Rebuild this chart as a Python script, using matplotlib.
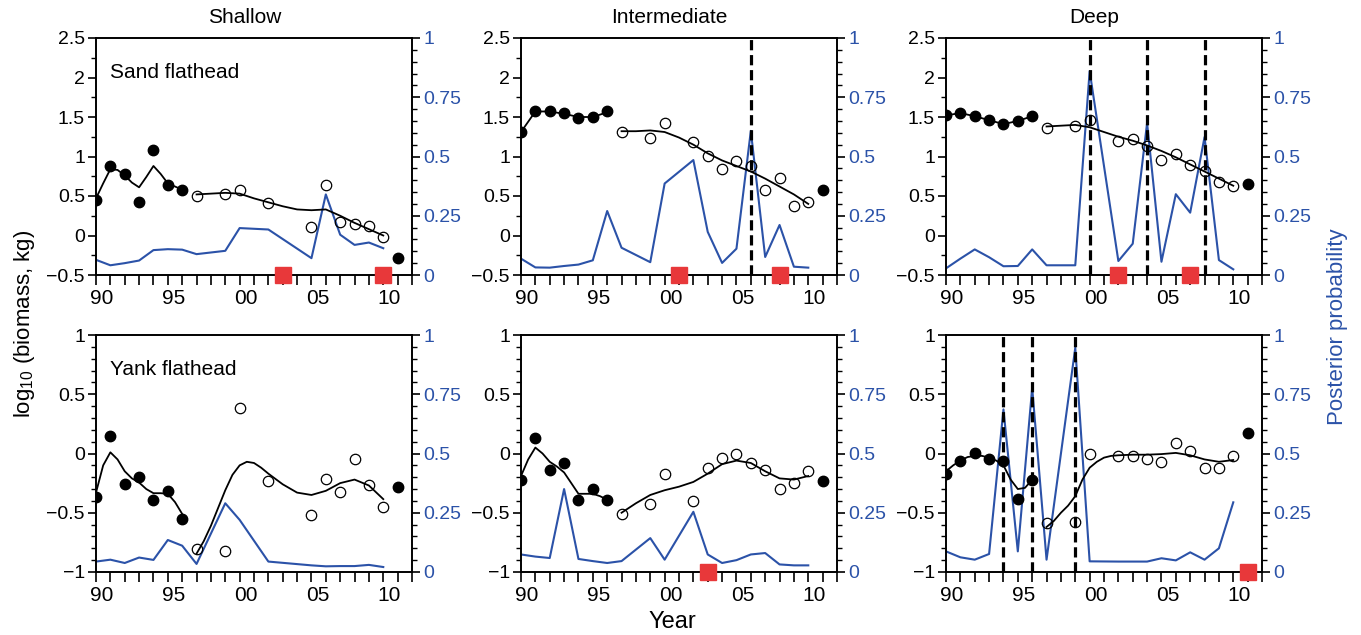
import matplotlib
matplotlib.use("Agg")
import matplotlib.pyplot as plt
from matplotlib.ticker import MultipleLocator, FuncFormatter
from matplotlib.transforms import ScaledTranslation

plt.rcParams['font.family'] = ['Liberation Sans', 'DejaVu Sans']
plt.rcParams['mathtext.fontset'] = 'custom'
plt.rcParams['mathtext.rm'] = 'Liberation Sans'

BLUE = '#2b52a8'
RED = '#e8383a'

# years
yrs_early = [1990, 1991, 1992, 1993, 1994, 1995, 1996]
half_early = [1990, 1990.5, 1991, 1991.5, 1992, 1992.5, 1993, 1993.5,
              1994, 1994.5, 1995, 1995.5, 1996]
yrs_late_a = [1997, 1999, 2000, 2002, 2005, 2006, 2007, 2008, 2009, 2010]
yrs_late_b = [1997, 1999, 2000, 2002, 2003, 2004, 2005, 2006, 2007, 2008, 2009, 2010]
yrs_curve = [1997, 1998, 1999, 2000, 2001, 2002, 2003, 2004, 2005, 2006,
             2007, 2008, 2009, 2010]
half_curve = [1997, 1997.5, 1998, 1998.5, 1999, 1999.5, 2000, 2000.5, 2001,
              2001.5, 2002, 2003, 2004, 2005, 2006, 2007, 2008, 2009, 2010]
yr_last = 2011

# ---- Sand flathead, shallow
sand_sh_early = [0.45, 0.88, 0.78, 0.42, 1.08, 0.64, 0.58]
sand_sh_late = [0.50, 0.53, 0.58, 0.41, 0.11, 0.64, 0.17, 0.14, 0.12, -0.02]
sand_sh_last = -0.28
sand_sh_fit_early = [0.47, 0.66, 0.84, 0.83, 0.76, 0.67, 0.61, 0.74, 0.88,
                     0.78, 0.66, 0.62, 0.58]
sand_sh_fit_late = [0.52, 0.53, 0.54, 0.53, 0.47, 0.42, 0.37, 0.33, 0.32,
                    0.33, 0.25, 0.16, 0.08, 0.0]
sand_sh_prob = [0.064, 0.041, 0.05, 0.061, 0.105, 0.109, 0.107,
                0.088, 0.102, 0.198, 0.192, 0.071, 0.34, 0.17, 0.127, 0.137, 0.113]
sand_sh_breaks = []
sand_sh_sq = [2003, 2010]

# ---- Sand flathead, intermediate
sand_in_early = [1.31, 1.58, 1.58, 1.55, 1.49, 1.50, 1.57]
sand_in_late = [1.31, 1.23, 1.43, 1.18, 1.01, 0.84, 0.94, 0.88, 0.57, 0.73, 0.37, 0.43]
sand_in_last = 0.57
sand_in_fit_early = [1.31, 1.57, 1.57, 1.54, 1.50, 1.50, 1.56]
sand_in_fit_late = [1.32, 1.32, 1.33, 1.31, 1.24, 1.15, 1.04, 0.95, 0.88,
                    0.81, 0.72, 0.62, 0.52, 0.40]
sand_in_prob = [0.069, 0.032, 0.031, 0.038, 0.044, 0.062, 0.27,
                0.115, 0.054, 0.386, 0.485, 0.182, 0.051, 0.111, 0.608,
                0.076, 0.211, 0.035, 0.031]
sand_in_breaks = [2006]
sand_in_sq = [2001, 2008]

# ---- Sand flathead, deep
sand_dp_early = [1.52, 1.55, 1.51, 1.46, 1.41, 1.45, 1.51]
sand_dp_late = [1.36, 1.38, 1.46, 1.19, 1.22, 1.13, 0.96, 1.03, 0.89, 0.82, 0.68, 0.63]
sand_dp_last = 0.65
sand_dp_fit_early = [1.52, 1.55, 1.51, 1.46, 1.41, 1.45, 1.51]
sand_dp_fit_late = [1.38, 1.39, 1.40, 1.37, 1.31, 1.25, 1.20, 1.14, 1.07,
                    0.99, 0.90, 0.81, 0.72, 0.63]
sand_dp_prob = [0.028, 0.069, 0.108, 0.075, 0.037, 0.038, 0.108,
                0.041, 0.041, 0.86, 0.059, 0.132, 0.641, 0.056, 0.341,
                0.263, 0.582, 0.063, 0.024]
sand_dp_breaks = [2000, 2004, 2008]
sand_dp_sq = [2002, 2007]

# ---- Yank flathead, shallow
yank_sh_early = [-0.37, 0.144, -0.26, -0.20, -0.39, -0.315, -0.55]
yank_sh_late = [-0.81, -0.82, 0.383, -0.23, -0.52, -0.217, -0.327, -0.045, -0.27, -0.45]
yank_sh_last = -0.285
yank_sh_fit_early = [-0.33, -0.10, 0.01, -0.05, -0.15, -0.21, -0.245, -0.30,
                     -0.335, -0.335, -0.34, -0.41, -0.51]
yank_sh_fit_late = [-0.845, -0.74, -0.61, -0.46, -0.31, -0.18, -0.10, -0.07,
                    -0.08, -0.12, -0.17, -0.26, -0.33, -0.35, -0.315, -0.25,
                    -0.22, -0.27, -0.385]
yank_sh_prob = [0.044, 0.052, 0.038, 0.061, 0.051, 0.135, 0.111,
                0.034, 0.29, 0.22, 0.044, 0.028, 0.024, 0.025, 0.025, 0.03, 0.021]
yank_sh_breaks = []
yank_sh_sq = []

# ---- Yank flathead, intermediate
yank_in_early = [-0.22, 0.135, -0.14, -0.08, -0.39, -0.30, -0.39]
yank_in_late = [-0.51, -0.43, -0.17, -0.40, -0.12, -0.04, -0.005, -0.08, -0.14,
                -0.30, -0.25, -0.15]
yank_in_last = -0.235
yank_in_fit_early = [-0.19, -0.05, 0.05, 0.0, -0.07, -0.11, -0.16, -0.25,
                     -0.34, -0.34, -0.34, -0.36, -0.39]
yank_in_fit_late = [-0.50, -0.42, -0.35, -0.31, -0.28, -0.24, -0.17, -0.09,
                    -0.06, -0.08, -0.15, -0.21, -0.22, -0.19]
yank_in_prob = [0.074, 0.065, 0.059, 0.35, 0.055, 0.046, 0.038,
                0.046, 0.143, 0.052, 0.254, 0.074, 0.038, 0.05, 0.074,
                0.08, 0.032, 0.028, 0.028]
yank_in_breaks = []
yank_in_sq = [2003]

# ---- Yank flathead, deep
yank_dp_early = [-0.17, -0.06, 0.003, -0.05, -0.06, -0.38, -0.22]
yank_dp_late = [-0.59, -0.58, -0.003, -0.025, -0.02, -0.05, -0.07, 0.09, 0.025,
                -0.12, -0.12, -0.02]
yank_dp_last = 0.17
yank_dp_fit_early = [-0.15, -0.10, -0.06, -0.03, -0.02, -0.02, -0.035, -0.06,
                     -0.10, -0.22, -0.30, -0.29, -0.22]
yank_dp_fit_late = [-0.62, -0.57, -0.50, -0.44, -0.36, -0.22, -0.12, -0.07,
                    -0.035, -0.02, -0.015, -0.01, -0.01, -0.005, 0.005, -0.015,
                    -0.05, -0.07, -0.055]
yank_dp_prob = [0.087, 0.062, 0.052, 0.076, 0.686, 0.087, 0.777,
                0.052, 0.946, 0.045, 0.044, 0.044, 0.044, 0.058, 0.049,
                0.083, 0.052, 0.10, 0.294]
yank_dp_breaks = [1994, 1996, 1999]
yank_dp_sq = [2011]

columns = ['Shallow', 'Intermediate', 'Deep']
species = ['Sand flathead', 'Yank flathead']
x_labels = ['90', '95', '00', '05', '10']


def fmt(v, pos):
    return ('%g' % round(v, 3)).replace('-', '\u2212')


fig = matplotlib.pyplot.figure(figsize=(13.61, 6.35), dpi=100)
W, H = 1361.0, 635.0
lefts = [96, 521, 946]
tops = [38, 335]
pw, ph = 316, 237

panels = [
    (0, 0, yrs_late_a, sand_sh_early, sand_sh_late, sand_sh_last, half_early, sand_sh_fit_early,
     yrs_curve, sand_sh_fit_late, sand_sh_prob, sand_sh_breaks, sand_sh_sq),
    (0, 1, yrs_late_b, sand_in_early, sand_in_late, sand_in_last, yrs_early, sand_in_fit_early,
     yrs_curve, sand_in_fit_late, sand_in_prob, sand_in_breaks, sand_in_sq),
    (0, 2, yrs_late_b, sand_dp_early, sand_dp_late, sand_dp_last, yrs_early, sand_dp_fit_early,
     yrs_curve, sand_dp_fit_late, sand_dp_prob, sand_dp_breaks, sand_dp_sq),
    (1, 0, yrs_late_a, yank_sh_early, yank_sh_late, yank_sh_last, half_early, yank_sh_fit_early,
     half_curve, yank_sh_fit_late, yank_sh_prob, yank_sh_breaks, yank_sh_sq),
    (1, 1, yrs_late_b, yank_in_early, yank_in_late, yank_in_last, half_early, yank_in_fit_early,
     yrs_curve, yank_in_fit_late, yank_in_prob, yank_in_breaks, yank_in_sq),
    (1, 2, yrs_late_b, yank_dp_early, yank_dp_late, yank_dp_last, half_early, yank_dp_fit_early,
     half_curve, yank_dp_fit_late, yank_dp_prob, yank_dp_breaks, yank_dp_sq),
]

for (row, col, late_x, early, late, last, fex, fe, flx, fl, prob, breaks, sq) in panels:
    ax = fig.add_axes([lefts[col] / W, 1 - (tops[row] + ph) / H, pw / W, ph / H])
    ax2 = ax.twinx()
    ax.set_zorder(ax2.get_zorder() + 1)
    ax.patch.set_visible(False)

    # posterior probability
    ax2.plot(yrs_early + late_x, prob, color=BLUE, lw=1.5)
    ax2.set_ylim(0, 1)
    ax2.yaxis.set_major_locator(MultipleLocator(0.25))
    ax2.yaxis.set_minor_locator(MultipleLocator(0.05))
    ax2.yaxis.set_major_formatter(FuncFormatter(fmt))
    ax2.tick_params(axis='y', which='major', direction='out', length=6, width=1.2,
                    labelsize=14, labelcolor=BLUE, pad=2)
    ax2.tick_params(axis='y', which='minor', direction='out', length=3.5, width=1.0)

    # biomass
    ax.plot(fex, fe, color='k', lw=1.3)
    ax.plot(flx, fl, color='k', lw=1.3)
    ax.plot(yrs_early, early, 'o', color='k', ms=7.5)
    ax.plot(late_x, late, 'o', mfc='none', mec='k', mew=0.9, ms=7.5)
    ax.plot([yr_last], [last], 'o', color='k', ms=7.5)
    for b in breaks:
        ax.axvline(b, color='k', lw=2.3, ls=(0, (3.2, 1.5)))

    if row == 0:
        ylim = (-0.5, 2.5)
        ax.yaxis.set_minor_locator(MultipleLocator(0.25))
    else:
        ylim = (-1, 1)
        ax.yaxis.set_minor_locator(MultipleLocator(0.1))
    ax.set_ylim(*ylim)
    ax.yaxis.set_major_locator(MultipleLocator(0.5))
    ax.yaxis.set_major_formatter(FuncFormatter(fmt))
    ax.plot(sq, [ylim[0]] * len(sq), 's', color=RED, ms=12, clip_on=False, zorder=10)

    ax.set_xlim(1990, 2012)
    ax.set_xticks([1990, 1995, 2000, 2005, 2010])
    ax.set_xticklabels(x_labels)
    ax.xaxis.set_minor_locator(MultipleLocator(1))
    ax.tick_params(axis='x', which='both', direction='out', length=7, width=1.2,
                   labelsize=15, pad=3)
    ax.tick_params(axis='y', which='major', direction='out', length=6, width=1.2,
                   labelsize=14, pad=2)
    ax.tick_params(axis='y', which='minor', direction='out', length=3.5, width=1.0)
    for a in (ax, ax2):
        for s in a.spines.values():
            s.set_linewidth(1.2)
    shift = ScaledTranslation(0.06, 0, fig.dpi_scale_trans)
    for lab in ax.xaxis.get_majorticklabels():
        lab.set_transform(lab.get_transform() + shift)

    if row == 0:
        ax.text(0.47, 1.085, columns[col], transform=ax.transAxes, ha='center',
                va='center', fontsize=15)
    if col == 0:
        ax.text(0.045, 0.855, species[row], transform=ax.transAxes, ha='left',
                va='center', fontsize=15)

fig.text(0.018, 0.49, r'log$_{\mathregular{10}}$ (biomass, kg)', rotation=90,
         ha='center', va='center', fontsize=16)
fig.text(0.983, 0.485, 'Posterior probability', rotation=90, ha='center',
         va='center', fontsize=16, color=BLUE)
fig.text(0.494, 0.02, 'Year', ha='center', va='center', fontsize=17)

matplotlib.pyplot.savefig('out.png', dpi=100)
